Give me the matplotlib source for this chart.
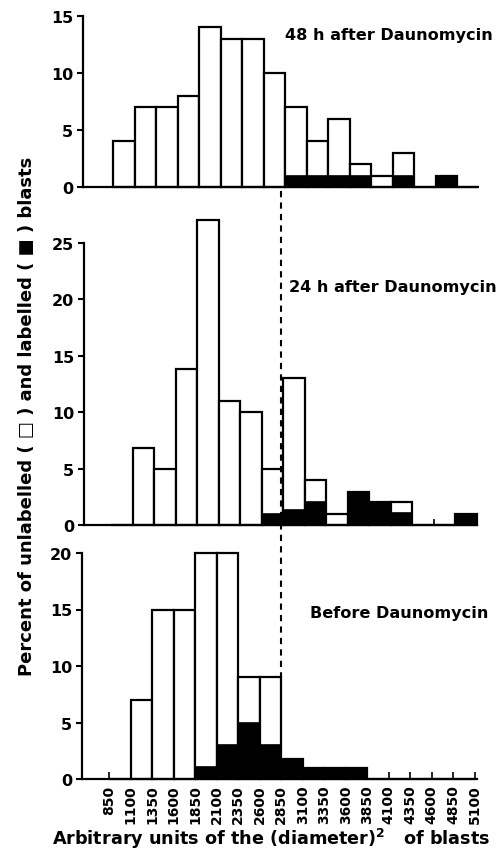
import matplotlib
matplotlib.use("Agg")
import matplotlib.pyplot as plt
from matplotlib.transforms import blended_transform_factory

plt.rcParams['font.family'] = ['DejaVu Sans']
plt.rcParams['font.weight'] = 'bold'

# bin left edges (arbitrary units of diameter^2), bin width 250
bins = [850, 1100, 1350, 1600, 1850, 2100, 2350, 2600, 2850,
        3100, 3350, 3600, 3850, 4100, 4350, 4600, 4850]
tick_labels = ['850', '1100', '1350', '1600', '1850', '2100', '2350', '2600', '2850',
               '3100', '3350', '3600', '3850', '4100', '4350', '4600', '4850', '5100']

# percent of all blasts (unlabelled + labelled) and labelled part
total_48h = [4, 7, 7, 8, 14, 13, 13, 10, 7, 4, 6, 2, 1, 3, 0, 1, 0]
lab_48h = [0, 0, 0, 0, 0, 0, 0, 0, 1, 1, 1, 1, 0, 1, 0, 1, 0]

total_24h = [0, 6.8, 5, 13.8, 27, 11, 10, 5, 13, 4, 1, 2.9, 2, 2, 0, 0, 1]
lab_24h = [0, 0, 0, 0, 0, 0, 0, 1, 1.3, 2, 0, 2.9, 2, 1.1, 0, 0, 1]

total_0h = [0, 7, 15, 15, 20, 20, 9, 9, 1.8, 1, 1, 1, 0, 0, 0, 0, 0]
lab_0h = [0, 0, 0, 0, 1.1, 3, 5, 3, 1.8, 1, 1, 1, 0, 0, 0, 0, 0]

W, H = 500, 862
fig = plt.figure(figsize=(W / 100, H / 100), dpi=100)


def px_axes(left, top, bottom, x0, x1):
    width = (x1 - x0) * 0.08605
    return fig.add_axes([left / W, 1 - bottom / H, width / W, (bottom - top) / H])


ax1 = px_axes(83, 17, 188, 498, 5076)
ax2 = px_axes(84, 244, 526, 534, 5100)
ax3 = px_axes(82, 554, 780, 535, 5123)

panels = [
    (ax1, total_48h, lab_48h, 15, [0, 5, 10, 15], '48 h after Daunomycin'),
    (ax2, total_24h, lab_24h, 25, [0, 5, 10, 15, 20, 25], '24 h after Daunomycin'),
    (ax3, total_0h, lab_0h, 20, [0, 5, 10, 15, 20], 'Before Daunomycin'),
]

for ax, tot, lab, ytop, yt, title in panels:
    ax.bar(bins, tot, width=250, align='edge', color='white',
           edgecolor='black', linewidth=1.6, clip_on=False, zorder=2)
    ax.bar(bins, lab, width=250, align='edge', color='black',
           edgecolor='black', linewidth=1.2, clip_on=False, zorder=3)
    ax.set_ylim(0, ytop)
    ax.set_yticks(yt)
    ax.set_yticklabels([str(v) for v in yt], fontsize=11.5, fontweight='bold')
    ax.tick_params(axis='y', direction='out', length=4, width=1.5, pad=3)
    for s in ['top', 'right']:
        ax.spines[s].set_visible(False)
    for s in ['left', 'bottom']:
        ax.spines[s].set_linewidth(1.6)
    ax.set_xticks([])

ax1.set_xlim(498, 5076)
ax2.set_xlim(534, 5100)
ax3.set_xlim(535, 5123)

ax2.set_xticks([4600])
ax2.set_xticklabels([])
ax2.tick_params(axis='x', direction='in', length=4, width=1.2)

ticks = bins + [5100]
ax3.set_xticks(ticks)
ax3.set_xticklabels(tick_labels, rotation=90, fontsize=10, fontweight='bold')
ax3.tick_params(axis='x', direction='in', length=5, width=1.2, pad=4)

fig.text(493 / W, 1 - 40 / H, '48 h after Daunomycin', ha='right', va='baseline',
         fontsize=11.6, fontweight='bold')
fig.text(497 / W, 1 - 292 / H, '24 h after Daunomycin', ha='right', va='baseline',
         fontsize=11.6, fontweight='bold')
fig.text(488 / W, 1 - 618 / H, 'Before Daunomycin', ha='right', va='baseline',
         fontsize=11.6, fontweight='bold')

# threshold between small and large blasts
trans = blended_transform_factory(ax3.transData, fig.transFigure)
fig.lines.append(plt.Line2D([2850, 2850], [1 - 192 / H, 1 - 680 / H], transform=trans,
                            color='black', linestyle=(0, (3, 2.5)), linewidth=1.5))

fig.text(27 / W, 1 - 416 / H, 'Percent of unlabelled ( \u25A1 ) and labelled ( \u25A0 ) blasts',
         rotation=90, ha='center', va='center', fontsize=13, fontweight='bold')
fig.text(271 / W, 1 - 845 / H, 'Arbitrary units of the (diameter)$^{\\mathbf{2}}$   of blasts',
         ha='center', va='baseline', fontsize=12.7, fontweight='bold')

fig.savefig('out.png', dpi=100)
